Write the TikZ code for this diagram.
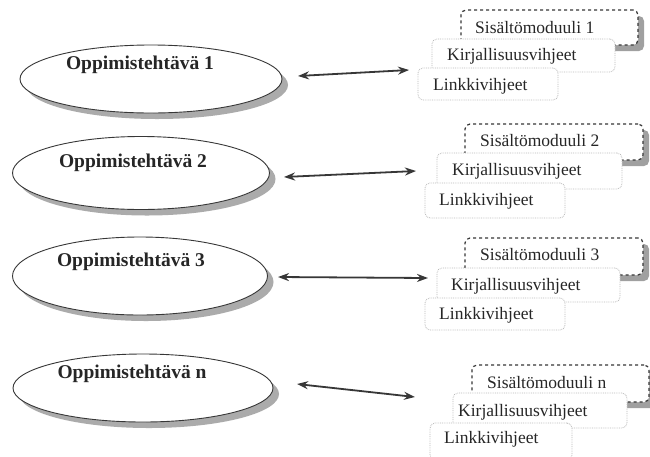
\documentclass[tikz,border=0pt]{standalone}
\usepackage{fontspec}
\setmainfont{Liberation Serif}
\usetikzlibrary{shapes.geometric,shadows,arrows.meta}
\definecolor{linec}{RGB}{55,55,55}
\definecolor{shadc}{RGB}{150,150,150}
\definecolor{boxline}{RGB}{185,185,185}
\tikzset{
  task/.style={ellipse, draw=linec, line width=0.9pt, fill=white, inner sep=0pt,
    drop shadow={shadow xshift=6pt, shadow yshift=-6pt, fill=shadc, opacity=0.8}},
  tasktext/.style={font=\fontsize{19.5}{21}\selectfont\bfseries, text=black!85, inner sep=0pt},
  modbox/.style={draw=linec, dashed, line width=1.2pt, rounded corners=5pt, fill=white,
    drop shadow={shadow xshift=6pt, shadow yshift=-6pt, fill=shadc, opacity=0.9}},
  hintbox/.style={draw=boxline, densely dotted, line width=0.8pt, rounded corners=5pt, fill=white},
  boxtext/.style={font=\fontsize{17.5}{19}\selectfont, text=black!85, inner sep=0pt, anchor=west},
  link/.style={{Stealth[length=11pt,width=8pt]}-{Stealth[length=11pt,width=8pt]}, line width=1.8pt, draw=linec}
}
\begin{document}
\begin{tikzpicture}[x=1pt,y=-1pt]
\useasboundingbox (0,0) rectangle (650,456);
\fill[white] (0,0) rectangle (650,456);

% ellipses
\node[task, minimum width=262pt, minimum height=68pt] (e1) at (151,79) {};
\node[tasktext] (t1) at (140,65) {Oppimistehtävä 1};
\node[task, minimum width=257pt, minimum height=73pt] (e2) at (141,173) {};
\node[tasktext] (t2) at (133,163) {Oppimistehtävä 2};
\node[task, minimum width=255pt, minimum height=78pt] (e3) at (140,276) {};
\node[tasktext] (t3) at (131,262) {Oppimistehtävä 3};
\node[task, minimum width=260pt, minimum height=68pt] (e4) at (143,388) {};
\node[tasktext] (t4) at (132,374) {Oppimistehtävä n};

% group 1
\node[modbox, minimum width=177pt, minimum height=35pt] (s1) at (549.5,27.5) {};
\node[boxtext] (s1t) at (475,28) {Sisältömoduuli 1};
\node[hintbox, minimum width=183pt, minimum height=33pt] (k1) at (523.5,55.5) {};
\node[boxtext] (k1t) at (447,56) {Kirjallisuusvihjeet};
\node[hintbox, minimum width=140pt, minimum height=32pt] (l1) at (488,84) {};
\node[boxtext] (l1t) at (433,86) {Linkkivihjeet};

% group 2
\node[modbox, minimum width=178pt, minimum height=36pt] (s2) at (554,142) {};
\node[boxtext] (s2t) at (480,141) {Sisältömoduuli 2};
\node[hintbox, minimum width=185pt, minimum height=36pt] (k2) at (529.5,171) {};
\node[boxtext] (k2t) at (452,171) {Kirjallisuusvihjeet};
\node[hintbox, minimum width=140pt, minimum height=35pt] (l2) at (495,200.5) {};
\node[boxtext] (l2t) at (439,201) {Linkkivihjeet};

% group 3
\node[modbox, minimum width=178pt, minimum height=37pt] (s3) at (554,256.5) {};
\node[boxtext] (s3t) at (480,255) {Sisältömoduuli 3};
\node[hintbox, minimum width=183pt, minimum height=34pt] (k3) at (528.5,285) {};
\node[boxtext] (k3t) at (451,286) {Kirjallisuusvihjeet};
\node[hintbox, minimum width=140pt, minimum height=32pt] (l3) at (495,314) {};
\node[boxtext] (l3t) at (439,315) {Linkkivihjeet};

% group n
\node[modbox, minimum width=177pt, minimum height=37pt] (s4) at (560.5,383.5) {};
\node[boxtext] (s4t) at (487,383) {Sisältömoduuli n};
\node[hintbox, minimum width=174pt, minimum height=35pt] (k4) at (540,410.5) {};
\node[boxtext] (k4t) at (458,412) {Kirjallisuusvihjeet};
\node[hintbox, minimum width=142pt, minimum height=37pt] (l4) at (501,441.5) {};
\node[boxtext] (l4t) at (444,439) {Linkkivihjeet};

% arrows
\coordinate (a1s) at (298,76); \coordinate (a1e) at (409,70);
\coordinate (a2s) at (284,177); \coordinate (a2e) at (416,171);
\coordinate (a3s) at (278,277); \coordinate (a3e) at (428,278);
\coordinate (a4s) at (297,384); \coordinate (a4e) at (415,397);
\draw[link] (a1s) -- (a1e);
\draw[link] (a2s) -- (a2e);
\draw[link] (a3s) -- (a3e);
\draw[link] (a4s) -- (a4e);
\end{tikzpicture}
\end{document}
